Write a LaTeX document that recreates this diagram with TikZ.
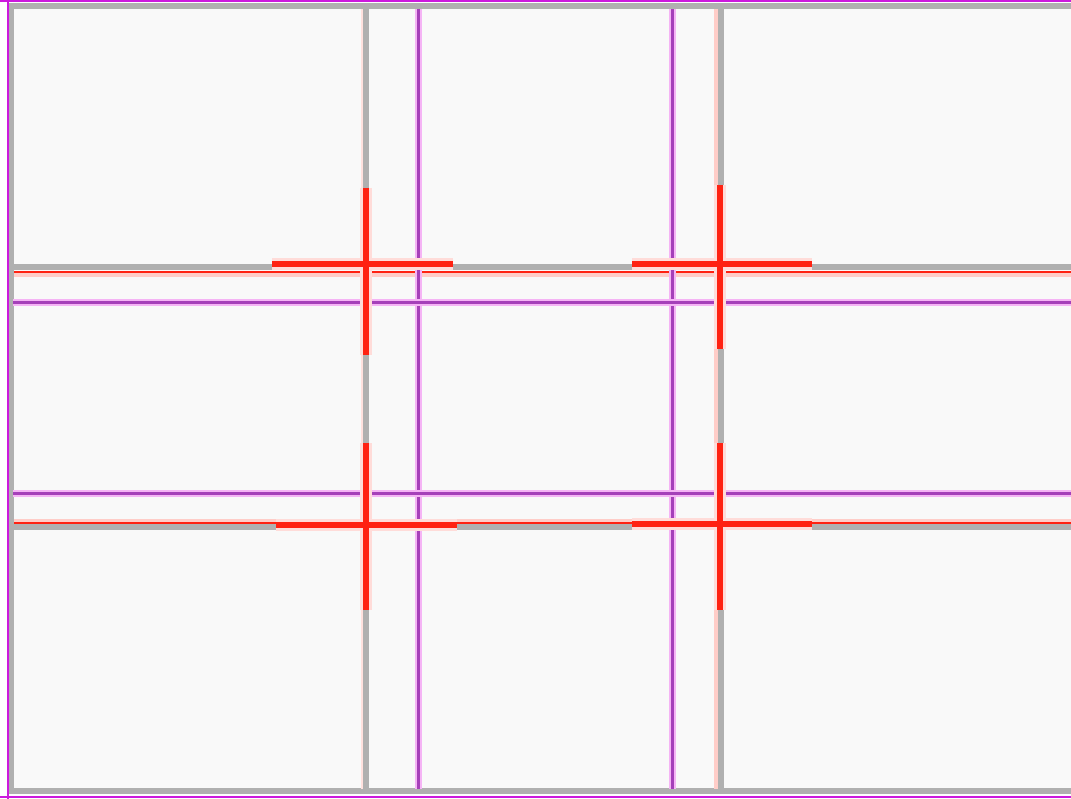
\documentclass[tikz,border=0pt]{standalone}
\begin{document}
\definecolor{bgc}{RGB}{249,249,249}
\definecolor{gridgray}{RGB}{176,176,176}
\definecolor{magframe}{RGB}{204,26,221}
\definecolor{magcore}{RGB}{165,64,185}
\definecolor{maghalo}{RGB}{245,180,245}
\definecolor{redcore}{RGB}{255,34,18}
\definecolor{redhalo}{RGB}{255,205,200}
\begin{tikzpicture}[x=1pt,y=-1pt,
  grayline/.style={draw=gridgray,line width=5.5pt},
  framemag/.style={draw=magframe,line width=2.5pt},
  maghalostyle/.style={draw=maghalo,line width=7pt},
  magcorestyle/.style={draw=magcore,line width=3pt},
  redthin/.style={draw=redcore,line width=1.5pt},
  redpale/.style={draw=redhalo,line width=5pt},
  crosshalo/.style={draw=redhalo!70,line width=12pt},
  crosscore/.style={draw=redcore,line width=6pt}]
\useasboundingbox (0,0) rectangle (1071,799);
\fill[white] (0,0) rectangle (1071,799);
\fill[bgc] (13,9) rectangle (1071,789);
% gray frame
\draw[grayline] (11,6) -- (1071,6);
\draw[grayline] (11,3) -- (11,794);
\draw[grayline] (11,791) -- (1071,791);
% magenta frame
\draw[framemag] (0,1) -- (1071,1);
\draw[framemag] (8,0) -- (8,799);
\draw[framemag] (0,797) -- (1071,797);
% pale red bands beside grid lines
\draw[redpale] (14,275) -- (1071,275);
\draw[redpale] (14,521) -- (1071,521);
\draw[draw=redhalo,line width=4pt] (716,9) -- (716,789);
\draw[draw=redhalo!60,line width=3pt] (362,9) -- (362,789);
% gray grid lines
\draw[grayline] (366,9) -- (366,789);
\draw[grayline] (721,9) -- (721,789);
\draw[grayline] (14,267) -- (1071,267);
\draw[grayline] (14,527) -- (1071,527);
% thin red lines
\draw[redthin] (14,272) -- (1071,272);
\draw[redthin] (14,523) -- (1071,523);
% magenta grid lines
\foreach \x in {418,672} {
  \draw[maghalostyle] (\x,9) -- (\x,789);
  \draw[magcorestyle] (\x,9) -- (\x,789);
}
\foreach \y in {303,493} {
  \draw[maghalostyle] (13,\y) -- (1071,\y);
  \draw[magcorestyle] (13,\y) -- (1071,\y);
}
% red crosses: cx, vertical top, vertical bottom, cy, horizontal left, horizontal right
\foreach \cx/\vt/\vb/\cy/\hl/\hr in {366/188/355/264/272/453, 720/185/349/264/632/812, 366/443/610/525/276/457, 720/443/610/524/632/812} {
  \draw[crosshalo] (\cx,\vt) -- (\cx,\vb);
  \draw[crosshalo] (\hl,\cy) -- (\hr,\cy);
  \draw[crosscore] (\cx,\vt) -- (\cx,\vb);
  \draw[crosscore] (\hl,\cy) -- (\hr,\cy);
}
\end{tikzpicture}
\end{document}
